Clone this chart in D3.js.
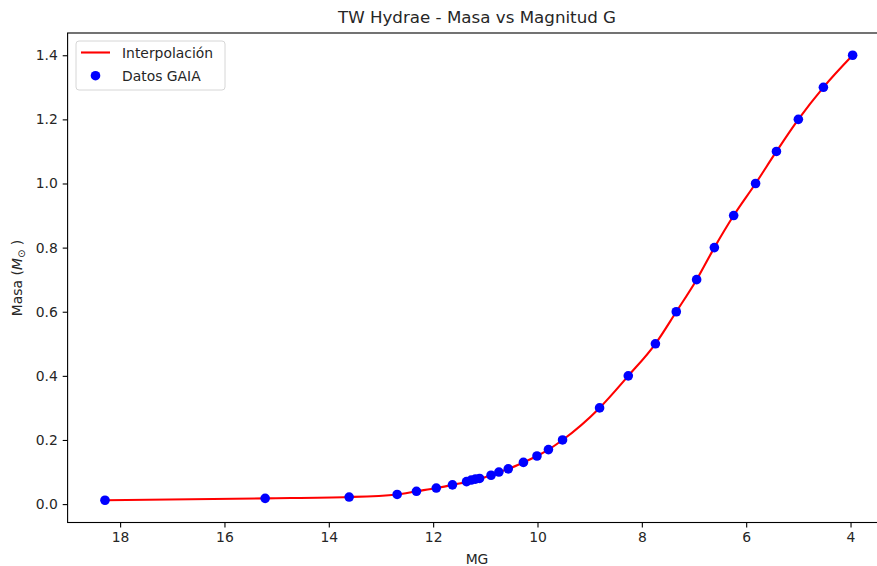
<!DOCTYPE html>
<head>
<meta charset="utf-8">
<style>
body { margin: 0; background: #fff; }
text { font-family: "DejaVu Sans", sans-serif; fill: #262626; }
.tick text { font-size: 13.9px; }
</style>
</head>
<body>
<script src="https://cdn.jsdelivr.net/npm/d3@7"></script>
<script>

// magnitud G (GAIA) y masa en masas solares
var mg   = [18.29, 15.22, 13.61, 12.69, 12.32, 11.94, 11.63, 11.36, 11.27, 11.19, 11.11, 10.89, 10.74, 10.56,
            10.27, 10.01, 9.79, 9.52, 8.81, 8.26, 7.74, 7.34, 6.95, 6.61, 6.24, 5.82, 5.42, 5.00, 4.52, 3.96];
var masa = [0.012, 0.018, 0.022, 0.03, 0.04, 0.05, 0.06, 0.07, 0.075, 0.078, 0.08, 0.09, 0.10, 0.11,
            0.13, 0.15, 0.17, 0.20, 0.30, 0.40, 0.50, 0.60, 0.70, 0.80, 0.90, 1.00, 1.10, 1.20, 1.30, 1.40];
var xTicks = [18, 16, 14, 12, 10, 8, 6, 4];
var yTicks = [0, 0.2, 0.4, 0.6, 0.8, 1.0, 1.2, 1.4];

var width = 877, height = 566;
var pLeft = 67.6, pRight = 890, pTop = 33, pBottom = 522.5;

var svg = d3.select("body").append("svg")
    .attr("width", width)
    .attr("height", height);

// margen del 5% como matplotlib
var xr = d3.extent(mg), yr = d3.extent(masa);
var xm = (xr[1] - xr[0]) * 0.05, ym = (yr[1] - yr[0]) * 0.05;

var x = d3.scaleLinear().domain([xr[1] + xm, xr[0] - xm]).range([pLeft, pRight]);
var y = d3.scaleLinear().domain([yr[0] - ym, yr[1] + ym]).range([pBottom, pTop]);

var data = mg.map(function(d, i) { return {mg: d, m: masa[i]}; });

// ejes
svg.append("g")
    .attr("transform", "translate(0," + pBottom + ")")
    .call(d3.axisBottom(x).tickValues(xTicks).tickFormat(d3.format("d")).tickSize(4.9).tickSizeOuter(0).tickPadding(4.9));
svg.append("g")
    .attr("transform", "translate(" + pLeft + ",0)")
    .call(d3.axisLeft(y).tickValues(yTicks).tickFormat(d3.format(".1f")).tickSize(4.9).tickSizeOuter(0).tickPadding(4.9));
svg.selectAll(".domain").remove();
svg.selectAll(".tick line").attr("stroke", "#000").attr("stroke-width", 1.1);
svg.selectAll(".tick text").attr("fill", "#262626");

// linea interpolada
var line = d3.line()
    .x(function(d) { return x(d.mg); })
    .y(function(d) { return y(d.m); })
    .curve(d3.curveMonotoneX);

svg.append("path")
    .datum(data)
    .attr("d", line)
    .attr("fill", "none")
    .attr("stroke", "#ff0000")
    .attr("stroke-width", 2.1);

svg.selectAll("circle.pt")
    .data(data)
    .enter()
    .append("circle")
    .attr("class", "pt")
    .attr("cx", function(d) { return x(d.mg); })
    .attr("cy", function(d) { return y(d.m); })
    .attr("r", 4.8)
    .attr("fill", "#0000ff");

// marco
svg.append("rect")
    .attr("x", pLeft).attr("y", pTop)
    .attr("width", pRight - pLeft).attr("height", pBottom - pTop)
    .attr("fill", "none")
    .attr("stroke", "#000")
    .attr("stroke-width", 1.1);

// titulos
svg.append("text")
    .attr("x", 477).attr("y", 23)
    .attr("text-anchor", "middle")
    .style("font-size", "16.7px")
    .text("TW Hydrae - Masa vs Magnitud G");

svg.append("text")
    .attr("x", 477).attr("y", 564)
    .attr("text-anchor", "middle")
    .style("font-size", "13.9px")
    .text("MG");

var yl = svg.append("text")
    .attr("transform", "translate(22,278) rotate(-90)")
    .attr("text-anchor", "middle")
    .style("font-size", "13.9px");
yl.append("tspan").text("Masa (");
yl.append("tspan").style("font-style", "italic").text("M");
yl.append("tspan").attr("dy", 3).style("font-size", "10px").text("\u2299");
yl.append("tspan").attr("dy", -3).text(" )");

// leyenda
var lg = svg.append("g").attr("transform", "translate(76,41)");
lg.append("rect")
    .attr("width", 149).attr("height", 49)
    .attr("rx", 3)
    .attr("fill", "#fff")
    .attr("fill-opacity", 0.8)
    .attr("stroke", "#d6d6d6");
lg.append("line")
    .attr("x1", 5).attr("x2", 34).attr("y1", 11.5).attr("y2", 11.5)
    .attr("stroke", "#ff0000").attr("stroke-width", 2.1);
lg.append("text").attr("x", 46).attr("y", 16.5).style("font-size", "13.9px").text("Interpolación");
lg.append("circle").attr("cx", 19.5).attr("cy", 34.7).attr("r", 4.8).attr("fill", "#0000ff");
lg.append("text").attr("x", 46).attr("y", 39.7).style("font-size", "13.9px").text("Datos GAIA");

</script>
</body>
